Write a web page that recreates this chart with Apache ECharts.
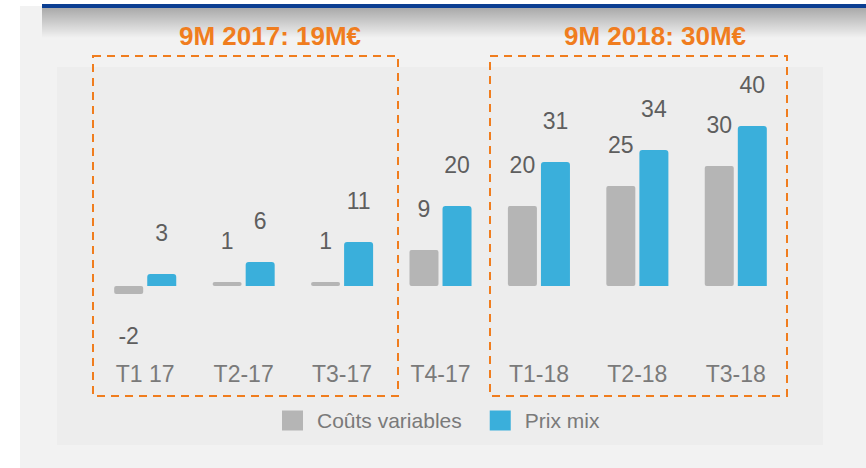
<!DOCTYPE html>
<html>
<head>
<meta charset="utf-8">
<style>
  html, body { margin: 0; padding: 0; background: #ffffff; }
  #chart { width: 866px; height: 468px; }
</style>
<script src="https://cdn.jsdelivr.net/npm/echarts@6/dist/echarts.min.js"></script>
</head>
<body>
<div id="chart"></div>
<script>
// Quarterly contribution (M€): variable costs vs price/mix
var quarters = ['T1 17', 'T2-17', 'T3-17', 'T4-17', 'T1-18', 'T2-18', 'T3-18'];
var coutsVariables = [-2, 1, 1, 9, 20, 25, 30];
var prixMix = [3, 6, 11, 20, 31, 34, 40];
var seriesNames = ['Coûts variables', 'Prix mix'];
var boxTitles = ['9M 2017: 19M€', '9M 2018: 30M€'];

var orange = '#f07d1e';
var grey = '#b5b5b5';
var blue = '#3aafdb';
var labelInk = '#5e5e5e';
var axisInk = '#7a7a7a';
var font = '"Liberation Sans", Arial, sans-serif';

function labelFor(v) {
  if (v < 0) return { position: 'bottom' };
  return undefined;
}

var chart = echarts.init(document.getElementById('chart'), null, { renderer: 'svg' });
chart.setOption({
  animation: false,
  backgroundColor: '#ffffff',
  textStyle: { fontFamily: font },
  graphic: [
    // panel background
    { type: 'rect', z: -10, shape: { x: 20, y: 6, width: 846, height: 462 }, style: { fill: '#f2f2f2' } },
    // shadow under the header bar
    { type: 'rect', z: -9, shape: { x: 42, y: 8, width: 824, height: 30 },
      style: { fill: { type: 'linear', x: 0, y: 0, x2: 0, y2: 1,
        colorStops: [{ offset: 0, color: 'rgba(0,0,0,0.3)' }, { offset: 1, color: 'rgba(0,0,0,0)' }] } } },
    // header bar
    { type: 'rect', z: -8, shape: { x: 42, y: 4, width: 824, height: 4 }, style: { fill: '#0b3e92' } },
    // inner chart area
    { type: 'rect', z: -7, shape: { x: 57, y: 67, width: 766, height: 378 }, style: { fill: '#ededed' } },
    // dashed boxes
    { type: 'rect', z: 5, shape: { x: 93, y: 56, width: 305, height: 340 },
      style: { fill: 'none', stroke: orange, lineWidth: 2, lineDash: [8, 6] } },
    { type: 'rect', z: 5, shape: { x: 490, y: 56, width: 297, height: 340 },
      style: { fill: 'none', stroke: orange, lineWidth: 2, lineDash: [8, 6] } },
    { type: 'text', z: 5, x: 270, y: 36,
      style: { text: boxTitles[0], fill: orange, font: 'bold 26px ' + font, align: 'center', verticalAlign: 'middle' } },
    { type: 'text', z: 5, x: 655, y: 36,
      style: { text: boxTitles[1], fill: orange, font: 'bold 26px ' + font, align: 'center', verticalAlign: 'middle' } }
  ],
  legend: {
    data: seriesNames,
    left: 277,
    top: 405,
    icon: 'rect',
    itemWidth: 21,
    itemHeight: 20,
    itemGap: 28,
    textStyle: { color: axisInk, fontSize: 21, fontFamily: font, padding: [0, 0, 0, 9] }
  },
  grid: { left: 96, width: 689, top: 86, height: 264 },
  xAxis: {
    type: 'category',
    data: quarters,
    axisLine: { show: false },
    axisTick: { show: false },
    axisLabel: { color: axisInk, fontSize: 23, margin: 12, fontFamily: font }
  },
  yAxis: {
    type: 'value',
    min: -16,
    max: 50,
    show: false,
    splitLine: { show: false }
  },
  series: [
    {
      name: seriesNames[0],
      type: 'bar',
      barWidth: 29,
      barGap: '14%',
      itemStyle: { color: grey, borderRadius: 2 },
      label: { show: true, position: 'top', distance: 30, color: labelInk, fontSize: 23, fontFamily: font },
      data: coutsVariables.map(function (v) {
        var d = { value: v };
        var l = labelFor(v);
        if (l) d.label = l;
        return d;
      })
    },
    {
      name: seriesNames[1],
      type: 'bar',
      barWidth: 29,
      itemStyle: { color: blue, borderRadius: [3, 3, 0, 0] },
      label: { show: true, position: 'top', distance: 30, color: labelInk, fontSize: 23, fontFamily: font },
      data: prixMix
    }
  ]
});
window.addEventListener('resize', function () { chart.resize(); });
</script>
</body>
</html>
